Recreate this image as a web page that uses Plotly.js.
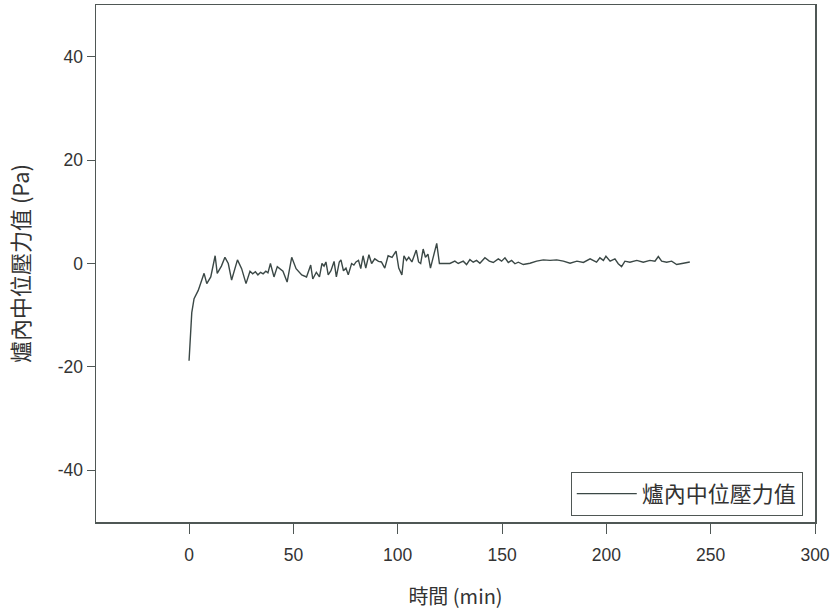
<!DOCTYPE html>
<html>
<head>
<meta charset="utf-8">
<script src="https://cdn.plot.ly/plotly-3.0.1.min.js"></script>
<style>html,body{margin:0;padding:0;background:#fff;}#chart{width:833px;height:610px;}</style>
</head>
<body>
<div id="chart"></div>
<script>
// Time (min) and furnace median pressure (Pa)
const timeA = [0,0.6,1.3,2.4,4.4,7.2,8.5,10.4,12.5,13.5,15.5,17.2,18.8,20.4,23.2,25.2,27.3,29.2,30.5,31.8,33,34.3,35.5,36.8,37.8,39,40.7,42.3,45,47,49.2,51.3,54,56.3,57.6,58.3,59.3,61,62.5,63.7,64.7,65.6,66.7,68,69.5,70.6,72,72.8,74,75.2,76.3,77.9,79,80,81.2,82.3,83.4,84.7,86.2,87.5,89,90.8,92.2,93.8,95.4,97.3,99.2,100.5,102,103,104.2,105.3,106.8,108.9,110,111,112.2,113.3,114.5,115.7,118.7,120];
const presA = [-18.8,-13,-9.5,-6.8,-5.2,-1.9,-3.9,-2.6,1.5,-1.9,-0.5,1.2,0,-3.2,0.7,-1.0,-3.9,-1.5,-2.0,-1.6,-2.2,-1.7,-2.0,-1.5,-1.8,0,-2.6,-0.6,-1.5,-3.6,1.2,-1.0,-2.2,-2.6,-1.3,-0.3,-3.0,-1.7,-2.6,0,-0.5,0.3,-2.2,-1.4,0.4,-2.6,0.3,0.7,-1.4,-0.9,-2.2,0,-0.3,0.3,0.6,-1.0,1.5,-0.9,1.7,0,0.9,0.4,0.3,-0.9,1.5,1.2,2.4,-0.9,-2.2,1.5,0.6,1.2,0.3,2.6,0.3,0,2.8,1.2,1.8,-0.9,3.9,0];
const timeB = [121,123,125,127.4,129,131.4,133,134.6,136.2,137.8,139.4,141.8,143.9,145.8,148.2,149.8,151.4,153,154.6,156.2,157.8,160.2,163.4,166.6,169.8,173,176.2,179.4,182.6,185.9,189,192.2,195.3,196.9,198.6,199.8,201.8,204.1,205.7,207.3,208.9,211.3,214.6,217.7,220.9,223.3,224.9,226.5,228.9,231.3,233.7,236.9,239.3,240];
const presB = [0.0,0.05,0.0,0.45,0.0,0.45,-0.2,0.75,0.25,0.6,0.05,1.1,0.45,0.2,0.9,0.45,1.1,0.2,0.6,-0.05,0.25,-0.2,0.05,0.45,0.7,0.6,0.7,0.45,0.05,0.45,0.2,0.9,0.25,1.1,0.6,1.4,0.45,0.9,-0.05,-0.6,0.45,0.25,0.6,0.25,0.6,0.45,1.35,0.45,0.25,0.45,-0.2,0.05,0.25,0.3];
const xTicks = [0,50,100,150,200,250,300];
const yTicks = [-40,-20,0,20,40];
const seriesName = '爐內中位壓力值';

const time = timeA.concat(timeB);
const pres = presA.concat(presB);

const axisColor = '#4f5755';
const tickFont = {family: 'Liberation Sans, Arial, sans-serif', size: 17.5, color: '#333'};

const trace = {
  x: time, y: pres, type: 'scatter', mode: 'lines', name: seriesName,
  line: {color: '#3b4846', width: 1.4}
};

const layout = {
  width: 833, height: 610,
  margin: {l: 96, r: 18, t: 5, b: 88},
  paper_bgcolor: '#fff', plot_bgcolor: '#fff',
  showlegend: true,
  legend: {
    x: 0.983, y: 0.012, xanchor: 'right', yanchor: 'bottom',
    bordercolor: axisColor, borderwidth: 1, bgcolor: '#fff',
    font: {family: 'Noto Sans CJK TC, sans-serif', size: 22, color: '#333'},
    itemwidth: 60
  },
  xaxis: {
    range: [-44.6, 300], tickvals: xTicks, ticktext: xTicks.map(String),
    showgrid: false, zeroline: false, showline: true, mirror: true,
    linecolor: axisColor, linewidth: 1.5,
    ticks: 'outside', ticklen: 10, tickcolor: axisColor, tickwidth: 1,
    ticklabelstandoff: 6,
    tickfont: tickFont,
    title: {text: '時間 (min)', font: {family: 'Noto Sans CJK TC, sans-serif', size: 20, color: '#333'}, standoff: 26}
  },
  yaxis: {
    range: [-50, 50], tickvals: yTicks, ticktext: yTicks.map(String),
    showgrid: false, zeroline: false, showline: true, mirror: true,
    linecolor: axisColor, linewidth: 1.5,
    ticks: 'outside', ticklen: 8, tickcolor: axisColor, tickwidth: 1,
    tickfont: tickFont,
    title: {text: '爐內中位壓力值 (Pa)', font: {family: 'Noto Sans CJK TC, sans-serif', size: 22, color: '#333'}, standoff: 22}
  }
};

Plotly.newPlot('chart', [trace], layout, {displayModeBar: false, staticPlot: true});
</script>
</body>
</html>
